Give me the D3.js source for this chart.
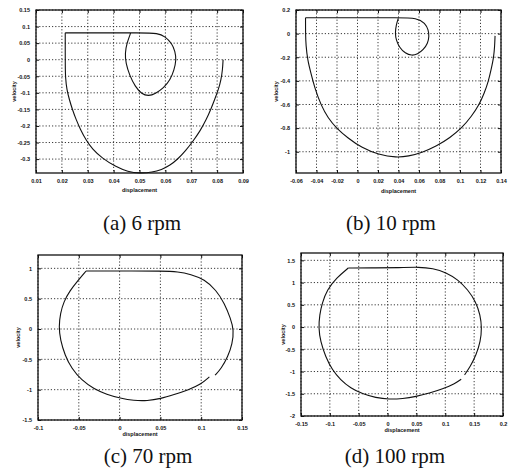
<!DOCTYPE html>
<html>
<head>
<meta charset="utf-8">
<script src="https://cdn.jsdelivr.net/npm/d3@7"></script>
<style>
  body { margin: 0; background: #fff; }
  svg { display: block; }
  .tick text { font-family: "Liberation Sans", Arial, sans-serif; font-size: 5.5px; font-weight: bold; fill: #111; }
  .lab { font-family: "Liberation Sans", Arial, sans-serif; font-size: 5.5px; font-weight: bold; fill: #111; }
  .cap { font-family: "Liberation Serif", "Times New Roman", serif; font-size: 21px; fill: #111; }
</style>
</head>
<body>
<div id="container"></div>
<script>
// captions under each phase plot
const captions = ["(a) 6 rpm", "(b) 10 rpm", "(c) 70 rpm", "(d) 100 rpm"];

// axis ranges and ticks
const xDomA = [0.01, 0.09], yDomA = [-0.342, 0.15];
const xTicksA = [0.01, 0.02, 0.03, 0.04, 0.05, 0.06, 0.07, 0.08, 0.09];
const yTicksA = [0.15, 0.1, 0.05, 0, -0.05, -0.1, -0.15, -0.2, -0.25, -0.3];

const xDomB = [-0.06, 0.14], yDomB = [-1.18, 0.2];
const xTicksB = [-0.06, -0.04, -0.02, 0, 0.02, 0.04, 0.06, 0.08, 0.1, 0.12, 0.14];
const yTicksB = [0.2, 0, -0.2, -0.4, -0.6, -0.8, -1];

const xDomC = [-0.1, 0.15], yDomC = [-1.5, 1.22];
const xTicksC = [-0.1, -0.05, 0, 0.05, 0.1, 0.15];
const yTicksC = [1, 0.5, 0, -0.5, -1, -1.5];

const xDomD = [-0.15, 0.2], yDomD = [-2, 1.665];
const xTicksD = [-0.15, -0.1, -0.05, 0, 0.05, 0.1, 0.15, 0.2];
const yTicksD = [1.5, 1, 0.5, 0, -0.5, -1, -1.5, -2];

// trajectories [displacement, velocity], split into smooth pieces at the corners
const curveA = [
  [[0.0823, 0.0], [0.0821, -0.03], [0.0815, -0.061], [0.0805, -0.09], [0.079, -0.121],
   [0.0775, -0.151], [0.0758, -0.181], [0.0735, -0.214], [0.0706, -0.247], [0.0678, -0.275],
   [0.0648, -0.3], [0.0618, -0.319], [0.0585, -0.332], [0.055, -0.34], [0.05, -0.343],
   [0.0455, -0.338], [0.041, -0.324], [0.0355, -0.297], [0.0318, -0.27], [0.0293, -0.242],
   [0.0272, -0.211], [0.0255, -0.181], [0.0241, -0.151], [0.0229, -0.121], [0.0219, -0.09],
   [0.0214, -0.055], [0.0213, -0.02], [0.0213, 0.081]],
  [[0.0213, 0.081], [0.035, 0.081], [0.05, 0.081], [0.0573, 0.0805],
   [0.0599, 0.0696], [0.0625, 0.0497], [0.0638, 0.0244], [0.0642, -0.0006], [0.0634, -0.0307],
   [0.0619, -0.0608], [0.0593, -0.0858], [0.0561, -0.103], [0.0535, -0.11], [0.0509, -0.104],
   [0.0483, -0.081], [0.0461, -0.0458], [0.0447, -0.0105], [0.0444, 0.0196], [0.0451, 0.0497],
   [0.0466, 0.081]]
];

const curveB = [
  [[0.1342, -0.019], [0.1338, -0.109], [0.1329, -0.2], [0.1303, -0.306], [0.1277, -0.404],
   [0.1238, -0.502], [0.1186, -0.603], [0.1114, -0.699], [0.1017, -0.8], [0.0903, -0.881],
   [0.0773, -0.952], [0.0627, -1.008], [0.0497, -1.038], [0.038, -1.05], [0.0205, -1.025],
   [0.0043, -0.968], [-0.01, -0.88], [-0.0205, -0.8], [-0.0288, -0.715], [-0.0358, -0.601],
   [-0.0412, -0.475], [-0.0455, -0.334], [-0.0487, -0.222], [-0.0503, -0.1], [-0.0507, 0.0],
   [-0.0507, 0.135]],
  [[-0.0507, 0.135], [0.0, 0.135], [0.04, 0.135], [0.058, 0.134],
   [0.066, 0.088], [0.0692, 0.031], [0.0699, -0.025], [0.0686, -0.081], [0.0643, -0.137],
   [0.0585, -0.174], [0.053, -0.187], [0.0465, -0.167], [0.0409, -0.118], [0.0377, -0.053],
   [0.0367, 0.004], [0.0377, 0.074], [0.04, 0.135]]
];

const curveC = [
  [[0.11, -0.79], [0.0998, -0.911], [0.0833, -1.01], [0.0668, -1.081], [0.0503, -1.148],
   [0.0339, -1.185], [0.0174, -1.18], [0.0009, -1.14], [-0.0156, -1.081], [-0.032, -0.982],
   [-0.0465, -0.845], [-0.0588, -0.652], [-0.067, -0.432], [-0.0726, -0.184], [-0.0745, 0.036],
   [-0.0726, 0.257], [-0.0685, 0.449], [-0.061, 0.63], [-0.051, 0.8], [-0.0411, 0.956]],
  [[-0.0411, 0.956], [0.0, 0.956], [0.0545, 0.956], [0.0709, 0.945], [0.0874, 0.901], [0.1039, 0.818],
   [0.1183, 0.642], [0.1286, 0.422], [0.136, 0.174], [0.14, -0.019], [0.1382, -0.239],
   [0.1327, -0.459], [0.1245, -0.652], [0.117, -0.762]]
];

const curveD = [
  [[0.1276, -1.173], [0.116, -1.278], [0.0957, -1.391], [0.0724, -1.488], [0.0492, -1.563],
   [0.026, -1.61], [0.0027, -1.627], [-0.0205, -1.59], [-0.0437, -1.503], [-0.064, -1.375],
   [-0.0815, -1.188], [-0.096, -0.962], [-0.1076, -0.662], [-0.1163, -0.324], [-0.1195, -0.024],
   [-0.1178, 0.276], [-0.1134, 0.539], [-0.1047, 0.839], [-0.089, 1.1], [-0.0681, 1.327]],
  [[-0.0681, 1.327], [-0.02, 1.33], [0.0201, 1.335], [0.055, 1.35], [0.0782, 1.32], [0.1015, 1.23],
   [0.1218, 1.065], [0.1392, 0.839], [0.1526, 0.577], [0.1607, 0.276], [0.1633, -0.024],
   [0.161, -0.324], [0.1537, -0.625], [0.1433, -0.888], [0.1334, -1.075]]
];

const width = 510, height = 473;

const svg = d3.select('#container').append('svg')
  .attr('width', width)
  .attr('height', height);

svg.append('rect').attr('width', width).attr('height', height).attr('fill', '#fff');

// box = [left, top, right, bottom]
const panels = [
  { curve: curveA, xDom: xDomA, yDom: yDomA, xTicks: xTicksA, yTicks: yTicksA,
    box: [36, 10, 243, 173], cap: captions[0], capX: 142, capY: 230, yLabDx: 22, xLabDy: 19 },
  { curve: curveB, xDom: xDomB, yDom: yDomB, xTicks: xTicksB, yTicks: yTicksB,
    box: [296, 10, 501, 173], cap: captions[1], capX: 391, capY: 230, yLabDx: 20, xLabDy: 20 },
  { curve: curveC, xDom: xDomC, yDom: yDomC, xTicks: xTicksC, yTicks: yTicksC,
    box: [38, 255, 242, 420], cap: captions[2], capX: 148, capY: 463, yLabDx: 20, xLabDy: 16 },
  { curve: curveD, xDom: xDomD, yDom: yDomD, xTicks: xTicksD, yTicks: yTicksD,
    box: [301, 253, 503, 416], cap: captions[3], capX: 395, capY: 463, yLabDx: 18, xLabDy: 16 }
];

function drawPanel(p) {
  const [l, t, r, b] = p.box;
  const w = r - l, h = b - t;
  const x = d3.scaleLinear().domain(p.xDom).range([l, r]);
  const y = d3.scaleLinear().domain(p.yDom).range([b, t]);
  const g = svg.append('g');

  // dotted grid
  g.append('g')
    .selectAll('line')
    .data(p.xTicks)
    .join('line')
    .attr('x1', d => x(d)).attr('x2', d => x(d))
    .attr('y1', t).attr('y2', b)
    .attr('stroke', '#222').attr('stroke-width', 0.9)
    .attr('stroke-dasharray', '1.2,2');
  g.append('g')
    .selectAll('line')
    .data(p.yTicks)
    .join('line')
    .attr('x1', l).attr('x2', r)
    .attr('y1', d => y(d)).attr('y2', d => y(d))
    .attr('stroke', '#222').attr('stroke-width', 0.9)
    .attr('stroke-dasharray', '1.2,2');

  // axes with inward ticks
  g.append('g').attr('transform', `translate(0,${b})`)
    .call(d3.axisBottom(x).tickValues(p.xTicks).tickFormat(d => String(d))
      .tickSizeInner(-3).tickSizeOuter(0).tickPadding(6));
  g.append('g').attr('transform', `translate(${l},0)`)
    .call(d3.axisLeft(y).tickValues(p.yTicks).tickFormat(d => String(d))
      .tickSizeInner(-3).tickSizeOuter(0).tickPadding(6));
  g.append('g').attr('transform', `translate(0,${t})`)
    .call(d3.axisTop(x).tickValues(p.xTicks).tickFormat('').tickSizeInner(-3).tickSizeOuter(0));
  g.append('g').attr('transform', `translate(${r},0)`)
    .call(d3.axisRight(y).tickValues(p.yTicks).tickFormat('').tickSizeInner(-3).tickSizeOuter(0));
  g.selectAll('.domain').remove();
  g.selectAll('.tick line').attr('stroke', '#111');

  // box
  g.append('rect')
    .attr('x', l).attr('y', t).attr('width', w).attr('height', h)
    .attr('fill', 'none').attr('stroke', '#111').attr('stroke-width', 1.3);

  // trajectory, b-spline to smooth out the read-off points
  const line = d3.line()
    .x(d => x(d[0]))
    .y(d => y(d[1]))
    .curve(d3.curveBasis);
  g.append('g')
    .selectAll('path')
    .data(p.curve)
    .join('path')
    .attr('d', line)
    .attr('fill', 'none')
    .attr('stroke', '#111')
    .attr('stroke-width', 1.1)
    .attr('stroke-linejoin', 'round');

  // labels
  g.append('text').attr('class', 'lab')
    .attr('x', (l + r) / 2).attr('y', b + p.xLabDy)
    .attr('text-anchor', 'middle')
    .text('displacement');
  g.append('text').attr('class', 'lab')
    .attr('transform', `translate(${l - p.yLabDx},${(t + b) / 2}) rotate(-90)`)
    .attr('text-anchor', 'middle')
    .attr('dy', '0.35em')
    .text('velocity');

  svg.append('text').attr('class', 'cap')
    .attr('x', p.capX).attr('y', p.capY)
    .attr('text-anchor', 'middle')
    .text(p.cap);
}

panels.forEach(drawPanel);
</script>
</body>
</html>
